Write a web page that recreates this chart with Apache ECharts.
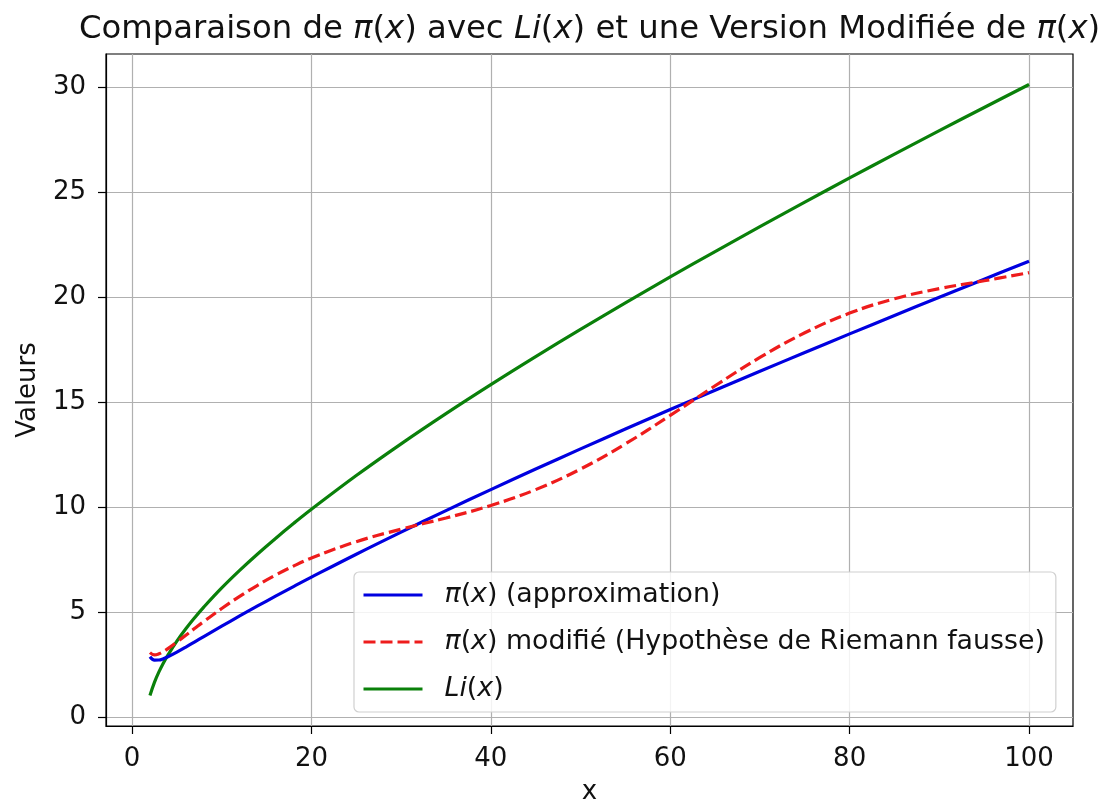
<!DOCTYPE html>
<html>
<head>
<meta charset="utf-8">
<script src="https://cdn.jsdelivr.net/npm/echarts@6/dist/echarts.min.js"></script>
<style>html,body{margin:0;padding:0;background:#fff}#c{width:1106px;height:800px}</style>
</head>
<body>
<div id="c"></div>
<script>
const xs = [2,2.5,3,3.5,4,5,6,7,8,10,12,14,16,18,20,25,30,35,40,45,50,55,60,65,70,75,80,85,90,95,100];
const piApprox = [2.885,2.728,2.731,2.794,2.885,3.107,3.349,3.597,3.847,4.343,4.829,5.305,5.771,6.228,6.676,7.767,8.820,9.845,10.843,11.821,12.781,13.725,14.655,15.571,16.476,17.371,18.256,19.132,20.001,20.861,21.715];
const piModified = [3.084,2.975,3.027,3.137,3.274,3.586,3.914,4.241,4.564,5.184,5.761,6.290,6.771,7.202,7.585,8.365,8.961,9.494,10.086,10.843,11.822,13.019,14.376,15.786,17.133,18.309,19.245,19.930,20.413,20.786,21.171];
const liValues = [1.045,1.667,2.164,2.589,2.968,3.635,4.221,4.755,5.252,6.166,7.001,7.781,8.520,9.226,9.905,11.513,13.023,14.460,15.840,17.174,18.469,19.732,20.966,22.175,23.362,24.529,25.679,26.812,27.930,29.035,30.126];
const xTicks = [0,20,40,60,80,100];
const yTicks = [0,5,10,15,20,25,30];
const seriesNames = ['pi', 'pimod', 'li'];
const legendLabels = {
  pi: '{i|π}{n|(}{i|x}{n|) (approximation)}',
  pimod: '{i|π}{n|(}{i|x}{n|) modifié (Hypothèse de Riemann fausse)}',
  li: '{i|Li}{n|(}{i|x}{n|)}'
};
const titleText = '{n|Comparaison de }{i|π}{n|(}{i|x}{n|) avec }{i|Li}{n|(}{i|x}{n|) et une Version Modifiée de }{i|π}{n|(}{i|x}{n|)}';

const F = 'DejaVu Sans';
const pairs = ys => xs.map((x, i) => [x, ys[i]]);

const chart = echarts.init(document.getElementById('c'), null, {renderer: 'canvas'});
chart.setOption({
  animation: false,
  backgroundColor: '#fff',
  title: {
    text: titleText,
    left: 74, top: 9,
    textStyle: {
      fontWeight: 'normal',
      rich: {
        n: {fontFamily: F, fontSize: 32.3, fontWeight: 'normal', color: '#111'},
        i: {fontFamily: F, fontSize: 32.3, fontWeight: 'normal', fontStyle: 'italic', color: '#111'}
      }
    }
  },
  grid: {left: 106, right: 33, top: 54, bottom: 74, show: true, borderColor: '#000', borderWidth: 1.2,
         backgroundColor: 'transparent', outerBoundsMode: 'none', containLabel: false},
  legend: {
    data: seriesNames,
    orient: 'vertical',
    left: 354, top: 572,
    padding: [9.5, 11, 9.5, 8],
    itemWidth: 59, itemHeight: 27, itemGap: 20,
    backgroundColor: 'rgba(255,255,255,0.85)',
    borderColor: '#d0d0d0', borderWidth: 1.2, borderRadius: 5,
    itemStyle: {opacity: 0},
    lineStyle: {width: 3},
    formatter: name => legendLabels[name],
    textStyle: {
      padding: [0, 0, 0, 17],
      rich: {
        n: {fontFamily: F, fontSize: 26.8, color: '#111', lineHeight: 27},
        i: {fontFamily: F, fontSize: 26.8, fontStyle: 'italic', color: '#111', lineHeight: 27}
      }
    }
  },
  xAxis: {
    type: 'value', min: -2.9, max: 104.9,
    name: 'x', nameLocation: 'middle', nameGap: 53,
    nameTextStyle: {fontFamily: F, fontSize: 26, color: '#111'},
    axisLine: {show: true, onZero: false, lineStyle: {color: '#000', width: 1.2}},
    axisTick: {show: true, length: 8, customValues: xTicks, lineStyle: {color: '#000', width: 1.2}},
    axisLabel: {customValues: xTicks, margin: 20, fontFamily: F, fontSize: 26, color: '#111'},
    splitLine: {show: true, lineStyle: {color: '#b0b0b0', width: 1.2}}
  },
  yAxis: {
    type: 'value', min: -0.41, max: 31.58,
    name: 'Valeurs', nameLocation: 'middle', nameGap: 65, nameRotate: 90,
    nameTextStyle: {fontFamily: F, fontSize: 26, color: '#111'},
    axisLine: {show: true, onZero: false, lineStyle: {color: '#000', width: 1.2}},
    axisTick: {show: true, length: 8, customValues: yTicks, lineStyle: {color: '#000', width: 1.2}},
    axisLabel: {customValues: yTicks, margin: 20, fontFamily: F, fontSize: 26, color: '#111'},
    splitLine: {show: true, lineStyle: {color: '#b0b0b0', width: 1.2}}
  },
  series: [
    {name: 'pi', type: 'line', data: pairs(piApprox), smooth: 0.4, symbol: 'none', z: 3,
     lineStyle: {color: '#0000e0', width: 3.2}, itemStyle: {color: '#0000e0'}},
    {name: 'pimod', type: 'line', data: pairs(piModified), smooth: 0.4, symbol: 'none', z: 4,
     lineStyle: {color: '#ee1c1c', width: 3.2, type: [12, 5]}, itemStyle: {color: '#ee1c1c'}},
    {name: 'li', type: 'line', data: pairs(liValues), smooth: 0.4, symbol: 'none', z: 2,
     lineStyle: {color: '#0a800a', width: 3.2}, itemStyle: {color: '#0a800a'}}
  ]
});
</script>
</body>
</html>
